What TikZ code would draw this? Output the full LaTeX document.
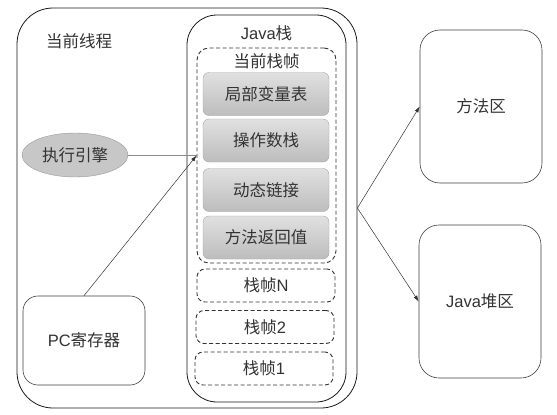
\documentclass[tikz,border=0pt]{standalone}
\usepackage{fontspec}
\setmainfont{Liberation Sans}
\newfontfamily\cjk{Noto Sans CJK SC}
\usetikzlibrary{shapes.geometric,arrows.meta}
\newcommand{\zh}[1]{{\cjk #1}}

\begin{document}
\begin{tikzpicture}[x=1pt,y=-1pt,
  every node/.style={font=\fontsize{16.5}{19}\selectfont, text=black!80, inner sep=0pt},
  holder/.style={draw=black!90, line width=0.8pt},
  framebox/.style={draw=black!80, dash pattern=on 4pt off 2.5pt, line width=0.9pt, rounded corners=8pt, minimum width=138pt, minimum height=33pt},
  slot/.style={draw=black!35, top color=black!12, bottom color=black!26, rounded corners=6pt, minimum width=126pt, minimum height=43pt},
  memory/.style={draw=black!75, line width=0.6pt, rounded corners=20pt, minimum width=122pt, minimum height=153pt},
  link/.style={draw=black!80, line width=0.5pt},
  tip/.style={-{Latex[length=6pt,width=4pt]}}]
\useasboundingbox[fill=white] (0,0) rectangle (557,415);

\node[holder, rounded corners=36pt, minimum width=340pt, minimum height=400pt] (thread) at (187,208) {};
\node (threadlabel) at (79,41) {\zh{当前线程}};

\node[holder, rounded corners=30pt, minimum width=159pt, minimum height=387pt] (stack) at (266.5,208.5) {};
\node (stacklabel) at (266.5,33) {Java\zh{栈}};

\node[framebox, rounded corners=12pt, minimum width=139pt, minimum height=215pt] (current) at (266.5,155.5) {};
\node (currentlabel) at (266.5,61) {\zh{当前栈帧}};

\node[slot] (locals) at (266,94) {\zh{局部变量表}};
\node[slot] (operands) at (266,140.5) {\zh{操作数栈}};
\node[slot] (dynlink) at (266,190) {\zh{动态链接}};
\node[slot] (retaddr) at (266,237.5) {\zh{方法返回值}};

\node[framebox] (frameN) at (266,285.5) {\zh{栈帧}N};
\node[framebox] (frame2) at (265,327) {\zh{栈帧}2};
\node[framebox] (frame1) at (264,368.5) {\zh{栈帧}1};

\node[ellipse, draw=black!40, fill=black!22, minimum width=106pt, minimum height=44pt] (engine) at (75,155) {\zh{执行引擎}};
\node[draw=black!75, line width=0.6pt, rounded corners=15pt, minimum width=122pt, minimum height=89pt] (pc) at (84,340.5) {PC\zh{寄存器}};

\node[memory] (method) at (481,106.5) {\zh{方法区}};
\node[memory] (heap) at (480,301.5) {Java\zh{堆区}};

\coordinate (fork) at (thread.east);
\draw[draw=black!45, line width=0.6pt] (engine.east) -- (engine.east -| current.west);
\draw[link, tip] (pc.north) -- (current.west);
\draw[link, tip] (fork) -- (method.west);
\draw[link, tip] (fork) -- (heap.west);
\end{tikzpicture}
\end{document}
